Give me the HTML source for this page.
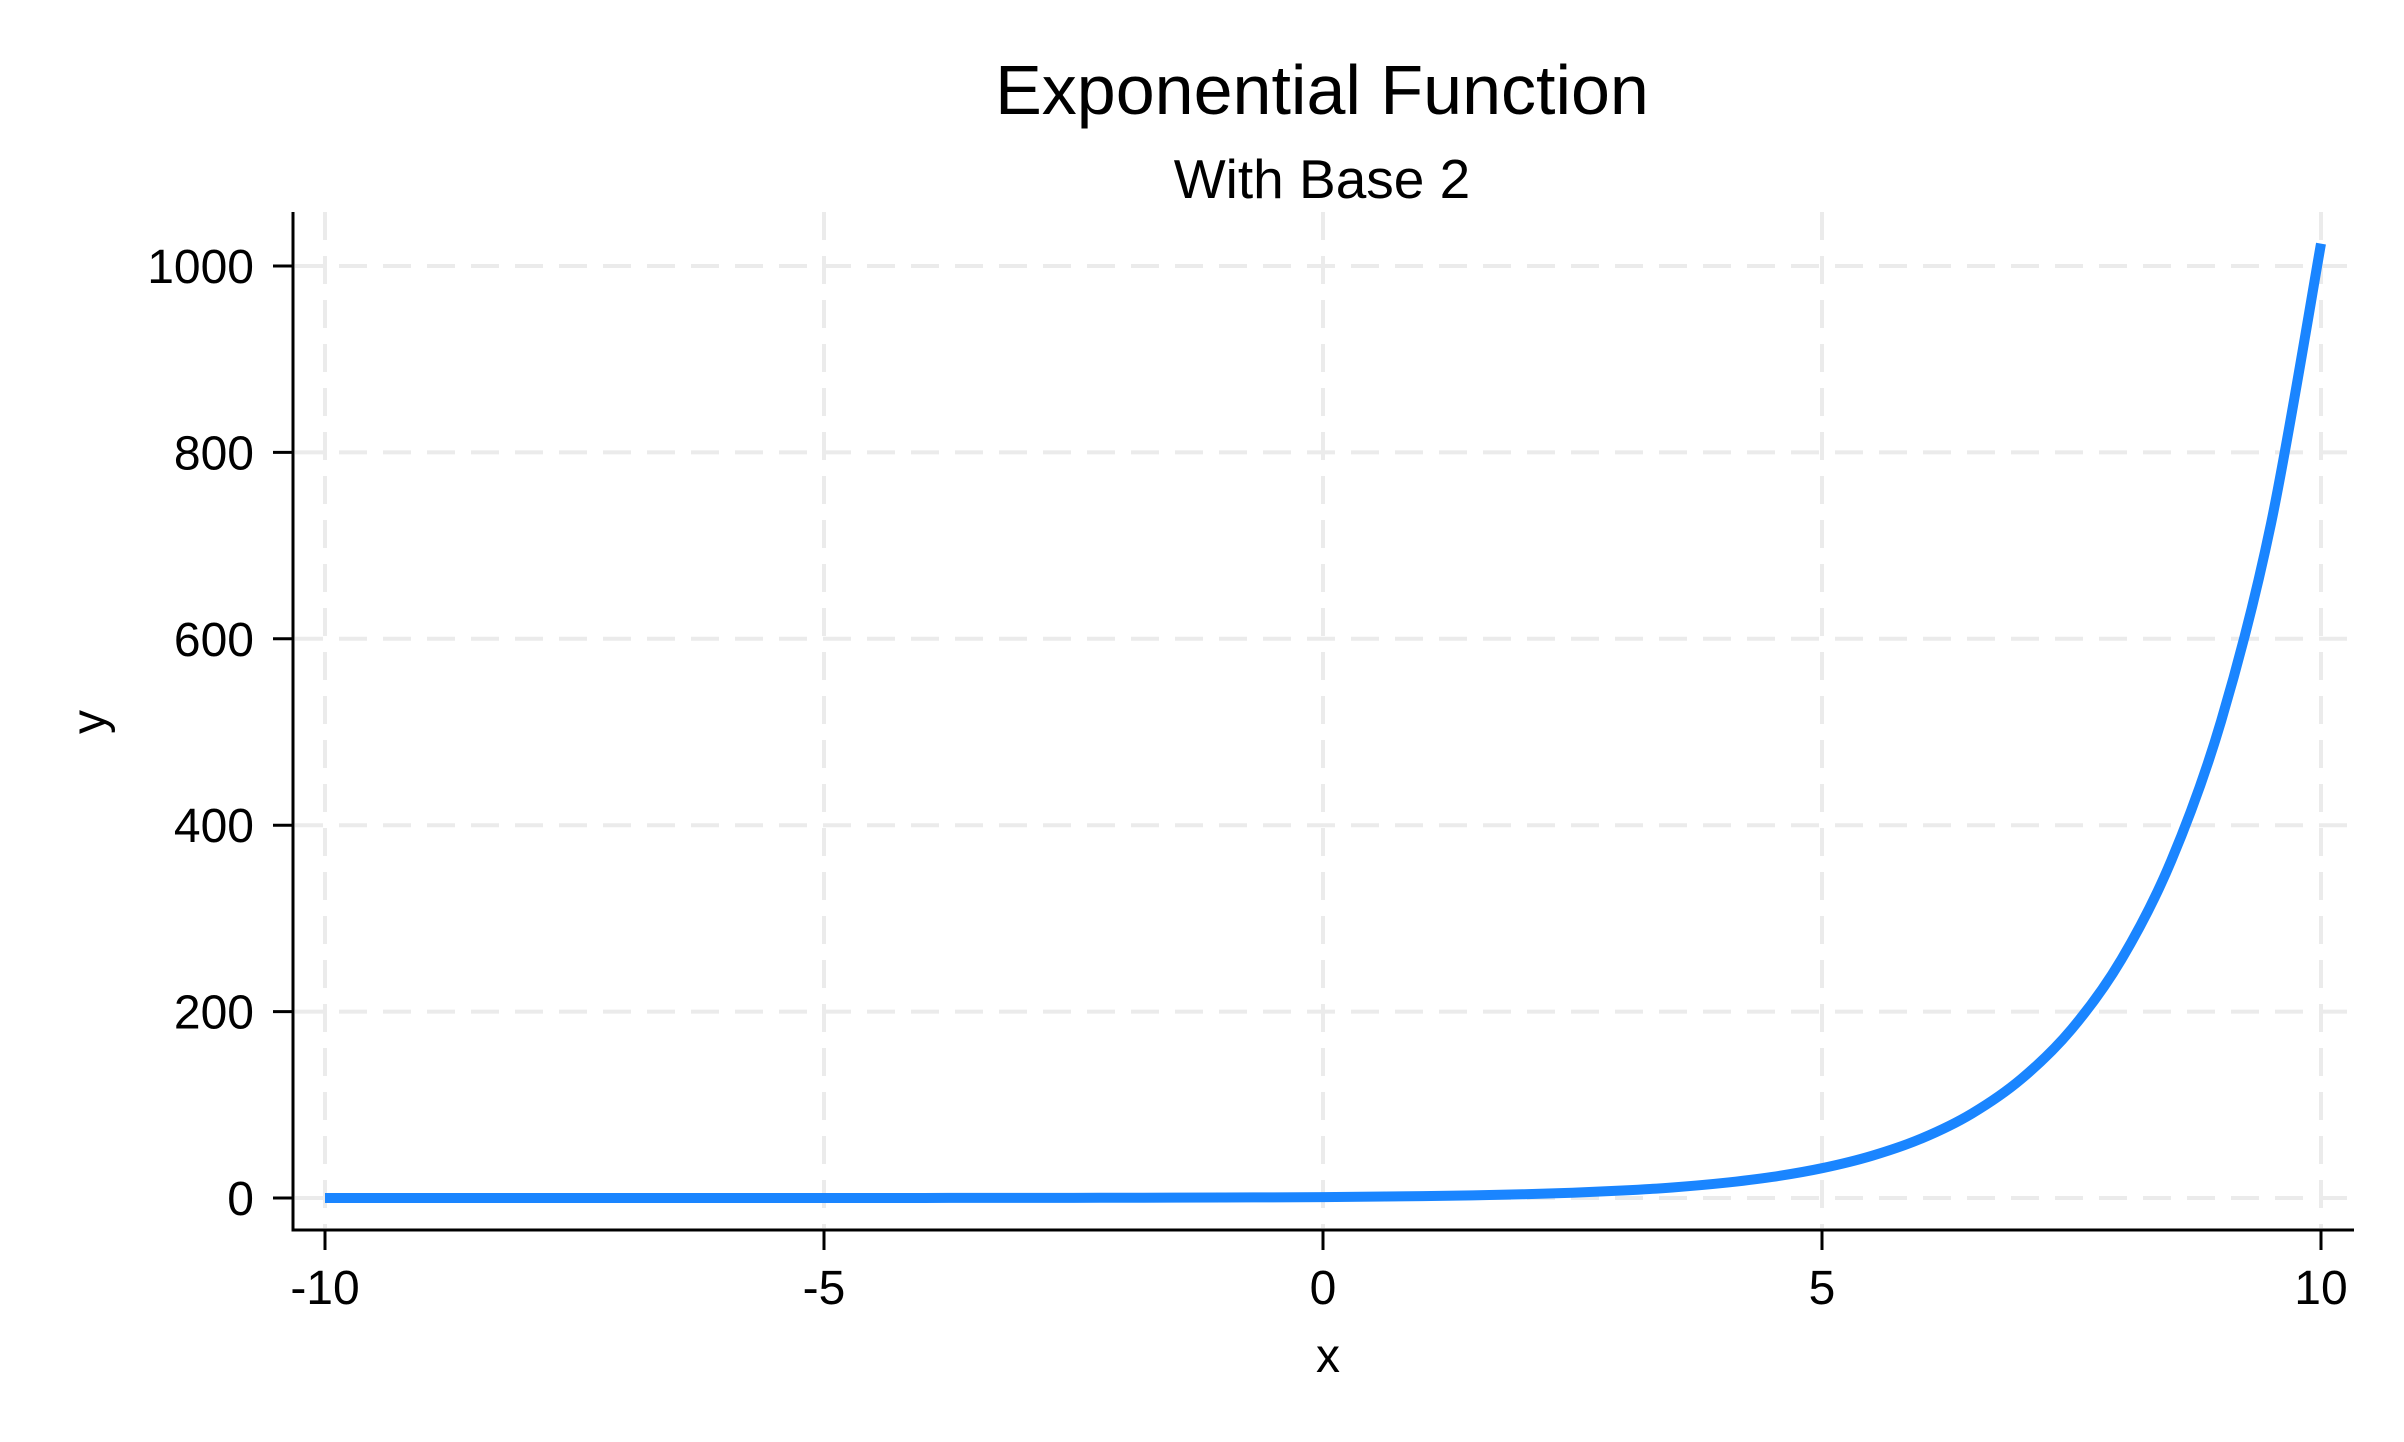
<!DOCTYPE html>
<html><head><meta charset="utf-8"><style>
html,body{margin:0;padding:0;background:#fff}
svg{display:block}
text{font-family:"Liberation Sans",Arial,sans-serif;fill:#000}
</style></head><body>
<svg id="chart" width="2404" height="1442" viewBox="0 0 2404 1442">
<text x="1322" y="114" font-size="70" text-anchor="middle">Exponential Function</text>
<text x="1322" y="198" font-size="55" text-anchor="middle">With Base 2</text>
<g id="grid"></g>
<g id="axes"></g>
<g id="series"></g>
<text x="1328" y="1372" font-size="48" text-anchor="middle">x</text>
<text x="0" y="0" font-size="48" text-anchor="middle" transform="translate(105,722) rotate(-90)">y</text>
</svg>
<script>
const xs = [-10,-9.5,-9,-8.5,-8,-7.5,-7,-6.5,-6,-5.5,-5,-4.5,-4,-3.5,-3,-2.5,-2,-1.5,-1,-0.5,0,0.5,1,1.5,2,2.5,3,3.5,4,4.5,5,5.5,6,6.5,7,7.5,8,8.5,9,9.5,10];
const ys = [0.000977,0.00138,0.00195,0.00276,0.0039,0.0055,0.0078,0.011,0.0156,0.0221,0.03125,0.0442,0.0625,0.0884,0.125,0.177,0.25,0.354,0.5,0.707,1,1.414,2,2.83,4,5.66,8,11.3,16,22.6,32,45.3,64,90.5,128,181,256,362,512,724,1024];
const xTicks = [-10,-5,0,5,10];
const yTicks = [0,200,400,600,800,1000];

const NS="http://www.w3.org/2000/svg";
const X0=325,X1=2321,Y0=1198,Y1=266;
const sx=v=>X0+(v+10)/20*(X1-X0);
const sy=v=>Y0+v/1000*(Y1-Y0);
function mk(tag,attrs,parent){const e=document.createElementNS(NS,tag);for(const k in attrs)e.setAttribute(k,attrs[k]);parent.appendChild(e);return e;}
const grid=document.getElementById('grid'),axes=document.getElementById('axes'),series=document.getElementById('series');
const AL=293,AB=1230,AT=212,AR=2354;
yTicks.forEach(t=>{
  const g=mk('line',{x1:AL+2,x2:AR,y1:sy(t),y2:sy(t),stroke:'#ebebeb','stroke-width':4,'stroke-dasharray':'28 16'},grid);
  
  
  const tk=mk('line',{x1:AL-20,x2:AL,y1:sy(t),y2:sy(t),stroke:'#000','stroke-width':3},axes);
  
  
  const lb=mk('text',{x:254,y:sy(t)+17,'font-size':48,'text-anchor':'end'},axes);
  lb.textContent=t;
  
  
});
xTicks.forEach(t=>{
  const g=mk('line',{x1:sx(t),x2:sx(t),y1:AT,y2:AB-2,stroke:'#ebebeb','stroke-width':4,'stroke-dasharray':'28 16'},grid);
  
  
  const tk=mk('line',{x1:sx(t),x2:sx(t),y1:AB,y2:AB+20,stroke:'#000','stroke-width':3},axes);
  
  
  const lb=mk('text',{x:sx(t),y:1304,'font-size':48,'text-anchor':'middle'},axes);
  lb.textContent=t;
  
  
});
const ya=mk('line',{x1:AL,x2:AL,y1:AT,y2:AB+1.5,stroke:'#000','stroke-width':3},axes);


const xa=mk('line',{x1:AL-1.5,x2:AR,y1:AB,y2:AB,stroke:'#000','stroke-width':3},axes);


const P=xs.map((x,i)=>[sx(x),sy(ys[i])]);
let d=`M${P[0][0]},${P[0][1]}`;
for(let i=0;i<P.length-1;i++){
  const p0=P[Math.max(0,i-1)],p1=P[i],p2=P[i+1],p3=P[Math.min(P.length-1,i+2)];
  const c1=[p1[0]+(p2[0]-p0[0])/6,p1[1]+(p2[1]-p0[1])/6];
  const c2=[p2[0]-(p3[0]-p1[0])/6,p2[1]-(p3[1]-p1[1])/6];
  d+=` C${c1[0]},${c1[1]} ${c2[0]},${c2[1]} ${p2[0]},${p2[1]}`;
}
const line=mk('path',{d:d,fill:'none',stroke:'#1a85ff','stroke-width':10},series);


</script>
</body></html>
